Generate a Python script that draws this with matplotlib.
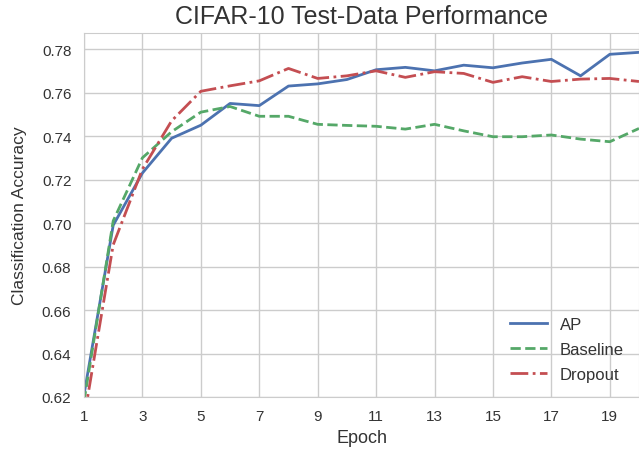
import matplotlib
matplotlib.use("Agg")
import matplotlib.pyplot as plt

epochs = list(range(1, 21))
ap = [0.621, 0.699, 0.723, 0.739, 0.745, 0.755, 0.754, 0.763, 0.764, 0.766,
      0.7705, 0.7716, 0.7700, 0.7726, 0.7714, 0.7736, 0.7753, 0.7677, 0.7776, 0.7785]
baseline = [0.618, 0.701, 0.730, 0.742, 0.751, 0.7536, 0.7491, 0.7491, 0.7454, 0.7449,
            0.7445, 0.7432, 0.7454, 0.7424, 0.7397, 0.7397, 0.7405, 0.7386, 0.7374, 0.7435]
dropout = [0.610, 0.690, 0.7248, 0.747, 0.7606, 0.7631, 0.7654, 0.7711, 0.7665, 0.7677,
           0.7700, 0.7670, 0.7696, 0.7688, 0.7647, 0.7673, 0.7651, 0.7662, 0.7665, 0.7651]
xticks = [1, 3, 5, 7, 9, 11, 13, 15, 17, 19]
yticks = [0.62, 0.64, 0.66, 0.68, 0.70, 0.72, 0.74, 0.76, 0.78]

plt.rcParams["font.family"] = ["Liberation Sans", "DejaVu Sans"]

fig = plt.figure(figsize=(6.39, 4.52), dpi=100)
ax = fig.add_axes([84 / 639, 54 / 452, 555 / 639, 364 / 452])
ax.set_facecolor("white")

ax.plot(epochs, ap, color="#4C72B0", lw=2.0, label="AP")
ax.plot(epochs, baseline, color="#55A868", lw=2.0, ls="--", label="Baseline")
ax.plot(epochs, dropout, color="#C44E52", lw=2.0, ls="-.", label="Dropout")

ax.set_xlim(1, 20)
ax.set_ylim(0.62, 0.7874)
ax.set_xticks(xticks)
ax.set_yticks(yticks)
ax.set_yticklabels([f"{v:.2f}" for v in yticks])
ax.grid(True, color="#cccccc", lw=1.0)
ax.set_axisbelow(True)
for s in ax.spines.values():
    s.set_color("#cccccc")
ax.tick_params(length=0, labelsize=11, colors="#333333")
ax.tick_params(axis="x", pad=9)
ax.tick_params(axis="y", pad=9)

ax.set_title("CIFAR-10 Test-Data Performance", fontsize=18, color="#333333", pad=7)
ax.set_xlabel("Epoch", fontsize=13, color="#333333", labelpad=4)
ax.set_ylabel("Classification Accuracy", fontsize=12.5, color="#333333", labelpad=11)
ax.legend(loc="lower right", frameon=False, fontsize=12, handlelength=2.2,
          labelspacing=0.6, labelcolor="#333333", borderaxespad=0.5)

fig.savefig("out.png", dpi=100)
